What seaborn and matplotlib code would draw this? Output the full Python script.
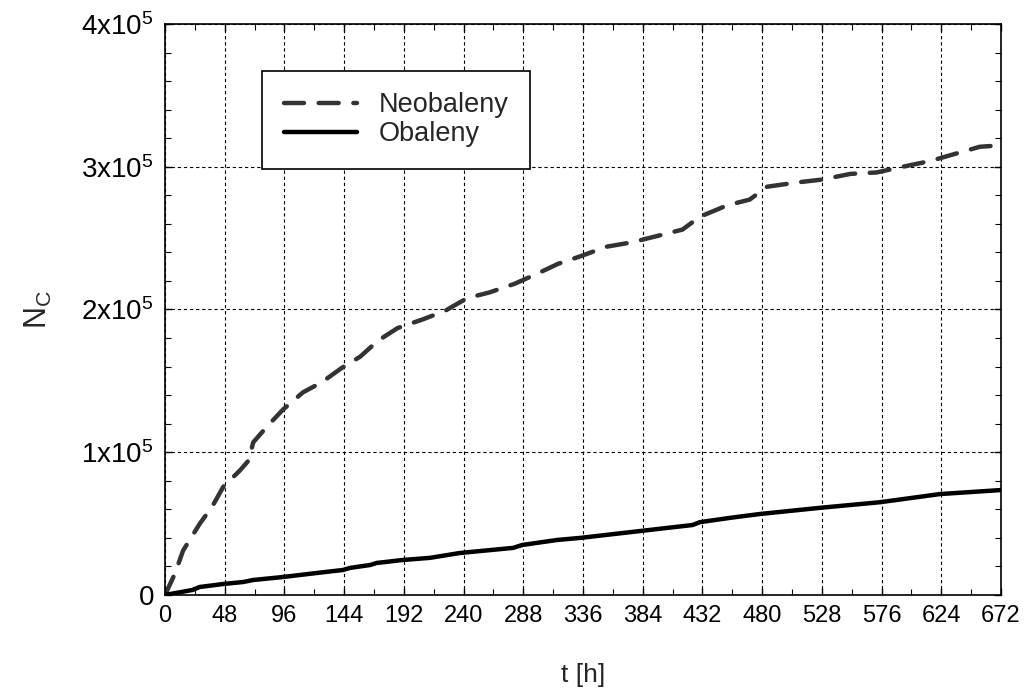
import numpy as np
import pandas as pd
import matplotlib
matplotlib.use("Agg")
import matplotlib.pyplot as plt
from matplotlib.ticker import MultipleLocator, FixedLocator
import seaborn as sns

# values (t in hours, N in thousands)
t_neo = [0, 8, 14.5, 28, 38, 47, 60, 67, 71, 82, 95, 111, 126, 142, 157, 171, 187, 207,
         225, 243, 261, 281, 299, 316, 333, 355, 375, 398, 416, 430, 452, 470, 484, 508,
         528, 551, 572, 593, 615, 635, 655, 672]
n_neo = [0, 15, 31, 50, 62, 76, 87, 94, 107, 118, 130, 142, 149, 159, 167, 178, 187, 193,
         199, 208, 212, 218, 225, 232, 237, 244, 247, 252, 256, 265, 273, 277, 286, 289,
         291, 295, 296, 300, 304, 309, 314, 315]

t_oba = [0, 22, 28, 47, 63, 71, 95, 122, 143, 149, 165, 170, 191, 213, 237, 280, 287, 315,
         334, 382, 424, 430, 454, 478, 526, 575, 623, 672]
n_oba = [0, 3.5, 5.6, 7.7, 9.1, 10.5, 12.6, 15.4, 17.5, 19, 21, 22.4, 24.5, 26, 29.4, 33,
         35, 38.5, 40, 44.8, 49, 51, 54, 56.7, 61, 65, 70.7, 73.5]

x_ticks = list(range(0, 673, 48))
y_ticks = [0, 1e5, 2e5, 3e5, 4e5]
y_labels = ["0", r"$1\mathrm{x}10^5$", r"$2\mathrm{x}10^5$", r"$3\mathrm{x}10^5$", r"$4\mathrm{x}10^5$"]

df_neo = pd.DataFrame({"t": t_neo, "N": np.array(n_neo) * 1000})
df_oba = pd.DataFrame({"t": t_oba, "N": np.array(n_oba) * 1000})

sns.set_style("ticks")
plt.rcParams["font.family"] = ["Liberation Sans", "DejaVu Sans"]
plt.rcParams["mathtext.fontset"] = "custom"
plt.rcParams["mathtext.rm"] = "Liberation Sans"
plt.rcParams["mathtext.it"] = "Liberation Sans:italic"

fig = plt.figure(figsize=(10.28, 6.94), dpi=100)
ax = fig.add_axes([0.1605, 0.1427, 0.8132, 0.8227])

sns.lineplot(data=df_neo, x="t", y="N", ax=ax, color="#333333", linewidth=3.2,
             linestyle=(0, (4.5, 3.3)), dash_capstyle="round", label="Neobaleny")
sns.lineplot(data=df_oba, x="t", y="N", ax=ax, color="black", linewidth=3.2,
             label="Obaleny")

ax.set_xlim(0, 672)
ax.set_ylim(0, 4e5)
ax.xaxis.set_major_locator(FixedLocator(x_ticks))
ax.xaxis.set_minor_locator(MultipleLocator(24))
ax.yaxis.set_major_locator(FixedLocator(y_ticks))
ax.yaxis.set_minor_locator(MultipleLocator(2e4))
ax.set_yticklabels(y_labels)

ax.tick_params(which="both", direction="in", top=True, right=True, colors="black")
ax.tick_params(which="major", length=5, width=1)
ax.tick_params(which="minor", length=4, width=0.8)
ax.tick_params(axis="x", labelsize=17, pad=7)
ax.tick_params(axis="y", labelsize=20, pad=8)

for s in ax.spines.values():
    s.set_color("black")
    s.set_linewidth(1.2)

ax.grid(True, which="major", color="black", linestyle=(0, (3, 2.5)), linewidth=0.8)

ax.set_xlabel("t [h]", fontsize=19, labelpad=26)
ax.set_ylabel(r"$\mathrm{N}_\mathrm{C}$", fontsize=22, labelpad=20)

leg = ax.legend(loc="upper left", bbox_to_anchor=(0.116, 0.918), borderaxespad=0,
                fontsize=19.5, handlelength=2.7, handletextpad=0.8, borderpad=0.8,
                labelspacing=0.1, fancybox=False, framealpha=1, edgecolor="black")
leg.get_frame().set_linewidth(1.2)

fig.savefig("out.png", dpi=100)
